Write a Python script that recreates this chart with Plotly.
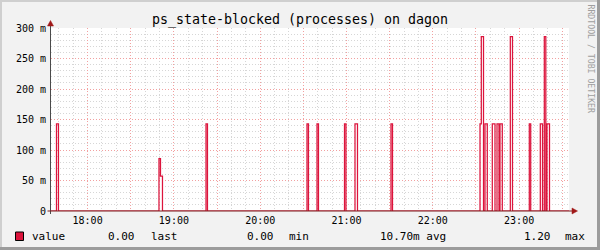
import plotly.graph_objects as go

# ---------------- data ----------------
DAY = "2024-01-01 "
change_times = [
    "17:34:34", "17:38:23", "17:39:46",
    "18:49:38", "18:50:41", "18:52:04",
    "19:22:19", "19:23:21",
    "20:32:32", "20:33:34", "20:39:29", "20:40:31",
    "20:58:36", "20:59:38", "21:05:54", "21:07:38",
    "21:30:55", "21:31:58",
    "22:32:48", "22:33:42", "22:35:14", "22:36:16", "22:37:52",
    "22:41:21", "22:43:13", "22:44:37", "22:46:00", "22:46:42", "22:48:18",
    "22:53:52", "22:55:23",
    "23:07:04", "23:08:03", "23:14:43", "23:16:15",
    "23:17:30", "23:18:33", "23:19:22", "23:21:07",
    "23:34:40",
]
levels = [
    0.0, 0.143, 0.0,
    0.086, 0.057, 0.0,
    0.143, 0.0,
    0.143, 0.0, 0.143, 0.0,
    0.143, 0.0, 0.143, 0.0,
    0.143, 0.0,
    0.143, 0.286, 0.0, 0.143, 0.0,
    0.143, 0.0, 0.143, 0.0, 0.143, 0.0,
    0.286, 0.0,
    0.143, 0.0, 0.143, 0.0,
    0.286, 0.0, 0.143, 0.0,
    0.0,
]
x_start, x_end = "17:34:34", "23:34:40"
major_x = ["18:00", "18:30", "19:00", "19:30", "20:00", "20:30", "21:00",
           "21:30", "22:00", "22:30", "23:00", "23:30"]
x_labels = ["18:00", "", "19:00", "", "20:00", "", "21:00", "", "22:00", "",
            "23:00", ""]
y_ticks = [0, 0.05, 0.10, 0.15, 0.20, 0.25, 0.30]
y_labels = ["0", "50 m", "100 m", "150 m", "200 m", "250 m", "300 m"]

title = "ps_state-blocked (processes) on dagon"
legend_items = [("value", 30), ("0.00", 106), ("last", 149), ("0.00", 244.5),
                ("min", 286.5), ("10.70m avg", 377.5), ("1.20", 521.5),
                ("max", 563)]
series_color = "#DC143C"

# ---------------- layout geometry ----------------
W, H = 600, 250
L, R, T, B = 51, 31, 28, 39
PW, PH = W - L - R, H - T - B
MONO = "DejaVu Sans Mono"


def px_x(px):
    return (px - L) / PW


def px_y(py):
    return (H - B - py) / PH


fig = go.Figure()
fig.add_trace(go.Scatter(
    x=[DAY + t for t in change_times], y=levels, mode="lines",
    line=dict(color=series_color, width=1.25, shape="hv"),
    hoverinfo="skip", showlegend=False,
))

grid_dash = "1px,2px"
fig.update_layout(
    width=W, height=H, margin=dict(l=L, r=R, t=T, b=B, pad=0),
    paper_bgcolor="#F2F2F2", plot_bgcolor="#FFFFFF",
    showlegend=False,
    font=dict(family=MONO, size=10, color="#000000"),
    xaxis=dict(
        type="date", range=[DAY + x_start, DAY + x_end],
        tickmode="array", tickvals=[DAY + t for t in major_x], ticktext=x_labels,
        showgrid=True, gridcolor="#F2A0A0", griddash=grid_dash, gridwidth=1,
        zeroline=False, showline=False, ticks="", ticklabelstandoff=2,
        tickfont=dict(family=MONO, size=10, color="#000"),
        minor=dict(tickmode="linear", tick0=DAY + "00:00", dtick=600000,
                   showgrid=True, gridcolor="#D6D6D6", griddash=grid_dash,
                   gridwidth=1),
        fixedrange=True,
    ),
    yaxis=dict(
        range=[0, 0.3], tickmode="array", tickvals=y_ticks, ticktext=y_labels,
        showgrid=True, gridcolor="#F2A0A0", griddash=grid_dash, gridwidth=1,
        zeroline=False, showline=False, ticks="", ticklabelstandoff=4,
        tickfont=dict(family=MONO, size=10, color="#000"),
        minor=dict(tickmode="linear", tick0=0, dtick=0.01, showgrid=True,
                   gridcolor="#D6D6D6", griddash=grid_dash, gridwidth=1),
        fixedrange=True,
    ),
    title=dict(text=title, x=0.5, xref="container", xanchor="center",
               y=1 - 19.5 / H, yref="container", yanchor="middle",
               font=dict(family=MONO, size=13.3, color="#000")),
)

shapes = []
# frame shading
shapes.append(dict(type="rect", xref="paper", yref="paper",
                   x0=px_x(0), x1=px_x(W), y0=px_y(0), y1=px_y(2),
                   fillcolor="#CFCFCF", line=dict(width=0), layer="above"))
shapes.append(dict(type="rect", xref="paper", yref="paper",
                   x0=px_x(0), x1=px_x(2), y0=px_y(0), y1=px_y(H),
                   fillcolor="#CFCFCF", line=dict(width=0), layer="above"))
shapes.append(dict(type="rect", xref="paper", yref="paper",
                   x0=px_x(0), x1=px_x(W), y0=px_y(H - 3), y1=px_y(H),
                   fillcolor="#9C9C9C", line=dict(width=0), layer="above"))
shapes.append(dict(type="rect", xref="paper", yref="paper",
                   x0=px_x(W - 3), x1=px_x(W), y0=px_y(0), y1=px_y(H),
                   fillcolor="#9C9C9C", line=dict(width=0), layer="above"))
# axes
shapes.append(dict(type="line", xref="paper", yref="paper",
                   x0=px_x(L - 0.5), x1=px_x(L - 0.5), y0=px_y(214), y1=px_y(25),
                   line=dict(color="#4A4A4A", width=1), layer="above"))
shapes.append(dict(type="line", xref="paper", yref="paper",
                   x0=px_x(47.5), x1=px_x(573), y0=px_y(211), y1=px_y(211),
                   line=dict(color="#7A1A1A", width=1), layer="above"))
# arrows
shapes.append(dict(type="path", xref="paper", yref="paper",
                   path="M {} {} L {} {} L {} {} Z".format(
                       px_x(577.5), px_y(211), px_x(572), px_y(208), px_x(572), px_y(214)),
                   fillcolor="#A01818", line=dict(color="#A01818", width=0.5),
                   layer="above"))
shapes.append(dict(type="path", xref="paper", yref="paper",
                   path="M {} {} L {} {} L {} {} Z".format(
                       px_x(L - 0.5), px_y(20.5), px_x(L - 3.5), px_y(26), px_x(L + 2.5), px_y(26)),
                   fillcolor="#A01818", line=dict(color="#A01818", width=0.5),
                   layer="above"))
# legend swatch
shapes.append(dict(type="rect", xref="paper", yref="paper",
                   x0=px_x(15.5), x1=px_x(23.5), y0=px_y(240.5), y1=px_y(232),
                   fillcolor=series_color, line=dict(color="#000", width=1),
                   layer="above"))
fig.update_layout(shapes=shapes)

ann = []
for text, xpx in legend_items:
    ann.append(dict(text=text, xref="paper", yref="paper", x=px_x(xpx),
                    y=px_y(236), xanchor="left", yanchor="middle",
                    showarrow=False, font=dict(family=MONO, size=11, color="#000")))
ann.append(dict(text="RRDTOOL / TOBI OETIKER", xref="paper", yref="paper",
                x=px_x(590.5), y=px_y(59), xanchor="center", yanchor="middle",
                textangle=90, showarrow=False,
                font=dict(family=MONO, size=8.2, color="#9E9E9E")))
fig.update_layout(annotations=ann)

fig.write_html("out.html")
